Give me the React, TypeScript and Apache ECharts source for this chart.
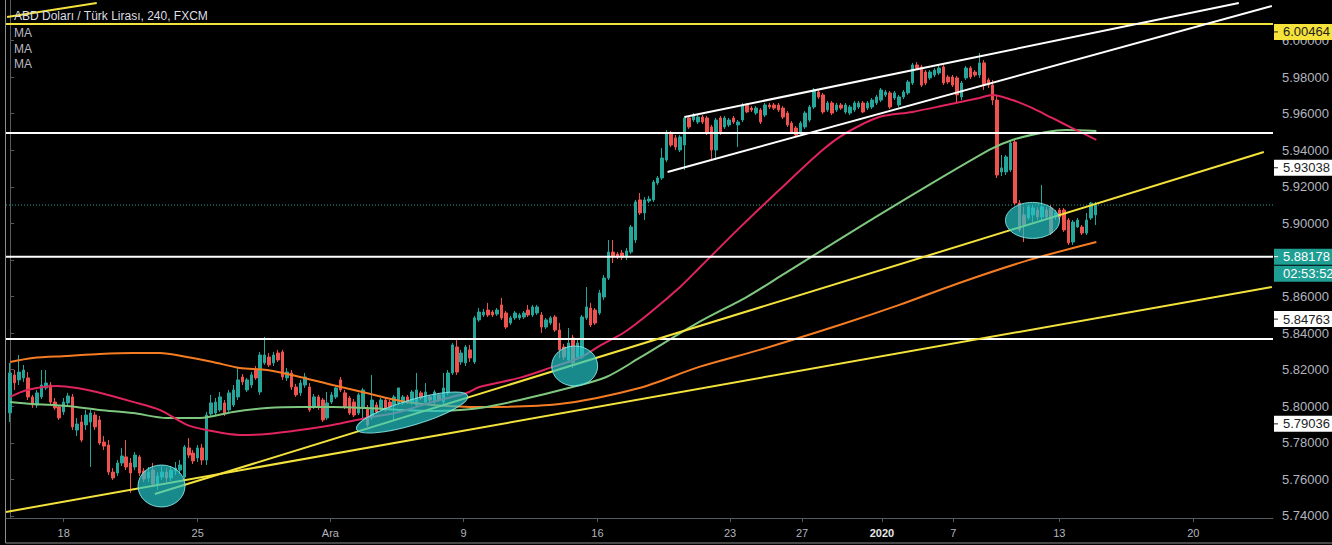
import React, { useEffect, useRef } from 'react';
import * as echarts from 'echarts';

// Bar index positions (4h bars) and date labels on the time axis
const xTickPos = [12, 42, 71.7, 101.5, 131.5, 161.2, 177.3, 195.2, 211.2, 234.9, 264.9];
const xTickLabels = ['18', '25', 'Ara', '9', '16', '23', '27', '2020', '7', '13', '20'];
const yTickValues = [5.74, 5.76, 5.78, 5.8, 5.82, 5.84, 5.86, 5.88, 5.9, 5.92, 5.94, 5.96, 5.98, 6.0];
const xRange = [-0.92, 282.75];
const yRange = [5.7389, 6.0221];

// [open, close, low, high] per 4h bar
const ohlc: number[][] = [
  [5.7964, 5.8182, 5.7914, 5.8237], [5.8171, 5.8128, 5.8089, 5.8198], [5.8144, 5.8187, 5.8116, 5.828], [5.8155, 5.8198, 5.8133, 5.8226],
  [5.8155, 5.8051, 5.8034, 5.8187], [5.8051, 5.8007, 5.7991, 5.8062], [5.8007, 5.8073, 5.7991, 5.8089], [5.8051, 5.8116, 5.804, 5.8198],
  [5.81, 5.8127, 5.8089, 5.8198], [5.8116, 5.8023, 5.8007, 5.8133], [5.8023, 5.7991, 5.798, 5.8045], [5.7996, 5.7936, 5.7925, 5.8007],
  [5.7969, 5.8023, 5.7952, 5.8045], [5.8018, 5.8056, 5.8002, 5.8073], [5.8051, 5.7887, 5.787, 5.8067], [5.787, 5.7903, 5.7837, 5.7936],
  [5.7914, 5.7815, 5.7804, 5.7952], [5.7898, 5.7952, 5.787, 5.798], [5.7914, 5.7963, 5.7668, 5.798], [5.7952, 5.7887, 5.787, 5.7969],
  [5.7925, 5.7799, 5.7788, 5.7947], [5.7804, 5.7782, 5.7761, 5.7837], [5.7788, 5.764, 5.7624, 5.7815], [5.764, 5.7608, 5.7597, 5.7662],
  [5.7635, 5.769, 5.7619, 5.7706], [5.769, 5.7728, 5.7673, 5.7772], [5.7723, 5.7668, 5.7651, 5.7815], [5.769, 5.7635, 5.7526, 5.7717],
  [5.7668, 5.7733, 5.7651, 5.775], [5.7723, 5.7635, 5.7619, 5.7733], [5.7646, 5.7602, 5.7586, 5.7662], [5.7608, 5.764, 5.7586, 5.7668],
  [5.7651, 5.7575, 5.7558, 5.769], [5.7575, 5.7619, 5.7542, 5.764], [5.7613, 5.764, 5.7597, 5.7673], [5.764, 5.7608, 5.7586, 5.7662],
  [5.7608, 5.7651, 5.7591, 5.7673], [5.7646, 5.7662, 5.7624, 5.7695], [5.7651, 5.7679, 5.763, 5.7706], [5.7613, 5.7777, 5.7602, 5.7788],
  [5.7772, 5.7733, 5.7717, 5.7826], [5.7744, 5.7701, 5.7684, 5.7761], [5.7717, 5.7772, 5.7695, 5.7788], [5.7772, 5.7706, 5.7679, 5.7794],
  [5.7706, 5.7952, 5.7679, 5.7969], [5.7958, 5.8018, 5.7947, 5.8062], [5.7963, 5.8023, 5.7947, 5.8045], [5.798, 5.8051, 5.7969, 5.8078],
  [5.8018, 5.7963, 5.7947, 5.8034], [5.798, 5.8073, 5.7969, 5.8089], [5.8007, 5.8089, 5.7996, 5.8116], [5.8051, 5.8144, 5.8034, 5.8209],
  [5.816, 5.8133, 5.8116, 5.8176], [5.8089, 5.8144, 5.8078, 5.8155], [5.8116, 5.8171, 5.81, 5.8187], [5.8198, 5.8155, 5.8144, 5.822],
  [5.8078, 5.828, 5.8062, 5.8297], [5.8237, 5.828, 5.8226, 5.8379], [5.8269, 5.8226, 5.8215, 5.8291], [5.8237, 5.828, 5.822, 5.8297],
  [5.8291, 5.8253, 5.8242, 5.8308], [5.8297, 5.816, 5.8144, 5.8308], [5.8155, 5.8187, 5.8138, 5.8209], [5.8182, 5.8105, 5.8089, 5.8198],
  [5.8105, 5.8062, 5.8051, 5.8122], [5.8073, 5.8127, 5.8056, 5.8144], [5.8116, 5.816, 5.81, 5.8182], [5.8105, 5.798, 5.7969, 5.8127],
  [5.7996, 5.8051, 5.7985, 5.8067], [5.8051, 5.7996, 5.798, 5.8062], [5.8034, 5.7925, 5.7914, 5.8045], [5.7936, 5.8018, 5.7925, 5.8078],
  [5.8023, 5.8062, 5.8012, 5.8078], [5.8051, 5.81, 5.804, 5.8105], [5.8144, 5.8089, 5.8078, 5.816], [5.8073, 5.7996, 5.7985, 5.8089],
  [5.8045, 5.7963, 5.7952, 5.8056], [5.8023, 5.7952, 5.7941, 5.804], [5.7963, 5.8062, 5.7952, 5.8073], [5.7996, 5.8089, 5.7925, 5.81],
  [5.7991, 5.7898, 5.7887, 5.8007], [5.7941, 5.8034, 5.7925, 5.8171], [5.8007, 5.7969, 5.7958, 5.8023], [5.7991, 5.8034, 5.798, 5.8045],
  [5.8034, 5.798, 5.7969, 5.8045], [5.8023, 5.7996, 5.7985, 5.8034], [5.8007, 5.8051, 5.7925, 5.8062], [5.8018, 5.81, 5.8007, 5.81],
  [5.8018, 5.8051, 5.8007, 5.8062], [5.8051, 5.8023, 5.8012, 5.8062], [5.8018, 5.8078, 5.8007, 5.8089], [5.8007, 5.8089, 5.7996, 5.8182],
  [5.8073, 5.8045, 5.8034, 5.8084], [5.8023, 5.8078, 5.8012, 5.8127], [5.8051, 5.8034, 5.8023, 5.8062], [5.8023, 5.8078, 5.8012, 5.8089],
  [5.8062, 5.8034, 5.8023, 5.8073], [5.8023, 5.81, 5.8007, 5.8182], [5.8073, 5.8182, 5.8062, 5.8198], [5.8182, 5.8335, 5.8171, 5.8346],
  [5.8324, 5.8187, 5.8171, 5.8362], [5.8242, 5.8291, 5.8226, 5.8308], [5.8237, 5.8324, 5.822, 5.8335], [5.8308, 5.8264, 5.8242, 5.8335],
  [5.8242, 5.8483, 5.8231, 5.8494], [5.8472, 5.8515, 5.8461, 5.8537], [5.8499, 5.8515, 5.8488, 5.8532], [5.8526, 5.8499, 5.8488, 5.8565],
  [5.8515, 5.8499, 5.8488, 5.8526], [5.8504, 5.8526, 5.8494, 5.8537], [5.8554, 5.8483, 5.8472, 5.8592], [5.851, 5.8433, 5.8422, 5.8521],
  [5.8455, 5.8483, 5.8444, 5.8494], [5.8483, 5.851, 5.8472, 5.8521], [5.8483, 5.8499, 5.8472, 5.851], [5.8488, 5.851, 5.8477, 5.8521],
  [5.8526, 5.8499, 5.8488, 5.8554], [5.8499, 5.8543, 5.8488, 5.8554], [5.851, 5.8543, 5.8499, 5.8554], [5.8499, 5.8433, 5.8401, 5.8515],
  [5.8433, 5.8472, 5.8422, 5.8483], [5.8455, 5.8483, 5.8444, 5.8494], [5.8488, 5.8417, 5.8406, 5.8499], [5.8417, 5.8308, 5.8264, 5.8455],
  [5.8324, 5.8269, 5.8253, 5.8341], [5.8253, 5.8346, 5.8237, 5.8428], [5.8373, 5.8237, 5.8209, 5.839], [5.8269, 5.8346, 5.8253, 5.8362],
  [5.8269, 5.8488, 5.8258, 5.8499], [5.8483, 5.8543, 5.8472, 5.8652], [5.8537, 5.8444, 5.8433, 5.8565], [5.8526, 5.8455, 5.8444, 5.8537],
  [5.851, 5.8619, 5.8499, 5.8636], [5.8597, 5.8701, 5.8581, 5.8718], [5.8701, 5.8843, 5.869, 5.8909], [5.8843, 5.8816, 5.8783, 5.8909],
  [5.8832, 5.8816, 5.8805, 5.8843], [5.8838, 5.8816, 5.88, 5.8854], [5.8816, 5.8849, 5.88, 5.8865], [5.8843, 5.898, 5.8832, 5.8991],
  [5.8909, 5.9117, 5.8892, 5.9128], [5.9128, 5.9057, 5.9046, 5.9166], [5.9057, 5.9128, 5.9018, 5.9144], [5.9122, 5.9133, 5.9111, 5.915],
  [5.9128, 5.9226, 5.9117, 5.9237], [5.9221, 5.9248, 5.921, 5.9259], [5.9248, 5.9357, 5.9237, 5.9412], [5.9346, 5.9494, 5.9335, 5.951],
  [5.9494, 5.9428, 5.9417, 5.9505], [5.9467, 5.9417, 5.9401, 5.9483], [5.9401, 5.9472, 5.939, 5.9483], [5.9428, 5.9576, 5.9292, 5.9587],
  [5.9576, 5.9527, 5.9516, 5.9587], [5.9565, 5.9592, 5.9554, 5.9603], [5.9554, 5.9581, 5.9543, 5.9592], [5.9581, 5.9554, 5.9543, 5.9592],
  [5.9576, 5.9494, 5.9483, 5.9587], [5.9527, 5.9401, 5.9346, 5.9538], [5.9401, 5.9565, 5.9346, 5.9576], [5.9576, 5.9494, 5.9483, 5.9587],
  [5.9527, 5.9576, 5.9516, 5.9587], [5.9538, 5.9565, 5.9527, 5.9576], [5.9576, 5.9554, 5.9543, 5.9587], [5.9538, 5.9554, 5.9417, 5.9565],
  [5.9565, 5.9647, 5.9554, 5.9658], [5.9647, 5.9609, 5.9603, 5.9658], [5.963, 5.962, 5.9609, 5.9641], [5.9603, 5.963, 5.9592, 5.9641],
  [5.962, 5.9554, 5.9543, 5.963], [5.9592, 5.9647, 5.9581, 5.9658], [5.9647, 5.9636, 5.9625, 5.9658], [5.9647, 5.963, 5.962, 5.9658],
  [5.9647, 5.962, 5.9609, 5.9658], [5.963, 5.9581, 5.957, 5.9641], [5.9603, 5.9538, 5.9527, 5.9614], [5.9548, 5.9499, 5.9488, 5.9559],
  [5.9521, 5.9483, 5.9472, 5.9532], [5.9494, 5.9548, 5.9483, 5.9559], [5.9527, 5.9603, 5.9516, 5.9614], [5.9565, 5.9636, 5.9554, 5.9647],
  [5.9636, 5.9729, 5.9625, 5.974], [5.9718, 5.9691, 5.968, 5.9729], [5.9702, 5.9609, 5.9598, 5.9713], [5.962, 5.9658, 5.9609, 5.9669],
  [5.9658, 5.9603, 5.9592, 5.9669], [5.962, 5.9647, 5.9609, 5.9658], [5.9647, 5.963, 5.962, 5.9658], [5.9609, 5.9647, 5.9598, 5.9658],
  [5.9603, 5.9636, 5.9592, 5.9647], [5.962, 5.9658, 5.9609, 5.9669], [5.9636, 5.9658, 5.9625, 5.9669], [5.9658, 5.9609, 5.9603, 5.9669],
  [5.963, 5.9658, 5.962, 5.9669], [5.9636, 5.9674, 5.9625, 5.9685], [5.9658, 5.9691, 5.9647, 5.9702], [5.9674, 5.9729, 5.9663, 5.974],
  [5.9702, 5.9718, 5.9691, 5.9729], [5.9713, 5.9636, 5.9625, 5.9724], [5.9685, 5.9713, 5.9674, 5.9724], [5.9647, 5.9691, 5.9636, 5.9702],
  [5.9691, 5.9718, 5.968, 5.9729], [5.9713, 5.9773, 5.9702, 5.9784], [5.9767, 5.9866, 5.9756, 5.9877], [5.9866, 5.9849, 5.9838, 5.9882],
  [5.9855, 5.9756, 5.9745, 5.9866], [5.9827, 5.9767, 5.9756, 5.9838], [5.9795, 5.9827, 5.9784, 5.9838], [5.9811, 5.9838, 5.98, 5.9849],
  [5.9822, 5.9849, 5.9811, 5.986], [5.9855, 5.9767, 5.9756, 5.9866], [5.98, 5.9773, 5.9762, 5.9811], [5.98, 5.9756, 5.9745, 5.9811],
  [5.9795, 5.9702, 5.9658, 5.9806], [5.9691, 5.9767, 5.9674, 5.9778], [5.9795, 5.9849, 5.9784, 5.986], [5.9849, 5.98, 5.9789, 5.986],
  [5.9827, 5.9811, 5.98, 5.9838], [5.9811, 5.9877, 5.9795, 5.9931], [5.9877, 5.9756, 5.9729, 5.9893], [5.9784, 5.9756, 5.974, 5.9795],
  [5.9756, 5.9674, 5.9647, 5.9784], [5.9674, 5.9264, 5.9248, 5.9702], [5.9281, 5.9303, 5.9259, 5.9374], [5.9281, 5.9363, 5.9264, 5.9374],
  [5.9292, 5.9439, 5.9281, 5.9456], [5.9445, 5.9111, 5.91, 5.9456], [5.9111, 5.8964, 5.8953, 5.9128], [5.9046, 5.8991, 5.8898, 5.909],
  [5.9029, 5.909, 5.9018, 5.91], [5.9046, 5.9084, 5.9007, 5.91], [5.9073, 5.9035, 5.9018, 5.909], [5.9035, 5.909, 5.9018, 5.921],
  [5.9073, 5.9035, 5.9018, 5.909], [5.9084, 5.8947, 5.8936, 5.91], [5.9035, 5.9057, 5.9018, 5.9073], [5.9073, 5.9035, 5.9018, 5.9084],
  [5.9073, 5.8964, 5.8953, 5.9084], [5.9018, 5.8893, 5.8882, 5.9029], [5.8898, 5.9007, 5.8882, 5.9018], [5.898, 5.9018, 5.8975, 5.9029],
  [5.898, 5.8947, 5.8936, 5.8991], [5.8947, 5.9018, 5.8936, 5.9057], [5.9029, 5.9111, 5.9018, 5.9117], [5.9046, 5.91, 5.8991, 5.9117],
];

// Moving averages: [bar index, value]
const maRed = [[0, 5.8051], [3.8, 5.8089], [10.5, 5.8111], [15, 5.81], [19.4, 5.8078], [27.5, 5.8024], [33.5, 5.798], [39.6, 5.7898], [44, 5.787], [51.4, 5.7843], [57.5, 5.7848], [64.9, 5.787], [72.2, 5.7898], [79.8, 5.7936], [87.2, 5.7969], [94.6, 5.8024], [102.2, 5.8072], [105.1, 5.8105], [114, 5.8155], [121.5, 5.8215], [127.5, 5.8265], [132, 5.833], [137.6, 5.8406], [143.2, 5.851], [150, 5.8652], [154.3, 5.8756], [163.3, 5.8975], [172.2, 5.9182], [181.9, 5.9401], [187.2, 5.9494], [194.6, 5.9581], [202, 5.9609], [209.6, 5.9647], [217, 5.9685], [219.9, 5.9702], [224.4, 5.9674], [228.8, 5.9631], [233.3, 5.9576], [237.8, 5.9521], [243.2, 5.9456]];
const maGreen = [[0, 5.8023], [5.1, 5.8012], [12.7, 5.8001], [20.1, 5.798], [27.5, 5.7963], [35.1, 5.7936], [42.5, 5.7936], [49.9, 5.7969], [57.5, 5.799], [64.9, 5.7996], [72.2, 5.7996], [79.8, 5.799], [87.2, 5.798], [94.6, 5.7974], [100.7, 5.798], [105.1, 5.799], [114.1, 5.8034], [125.9, 5.8105], [133.5, 5.816], [140.9, 5.8264], [154.3, 5.8461], [164.9, 5.8597], [172.2, 5.8707], [194.6, 5.9046], [219.2, 5.9401], [224.4, 5.9456], [232, 5.9499], [236.4, 5.951], [243.2, 5.9505]];
const maOrange = [[0, 5.8242], [5.1, 5.8264], [12.7, 5.8275], [20.1, 5.8286], [27.5, 5.8291], [33.5, 5.8291], [39.6, 5.8269], [45.4, 5.8242], [51.4, 5.8209], [57.5, 5.8198], [64.9, 5.816], [72.2, 5.8116], [79.8, 5.8072], [84.3, 5.8045], [88.8, 5.8023], [94.6, 5.8007], [105.1, 5.7996], [123, 5.8012], [140.9, 5.81], [154.3, 5.8215], [167.8, 5.8308], [185.7, 5.8444], [199.1, 5.8554], [212.5, 5.8674], [228.2, 5.88], [243.2, 5.8898]];

// Drawn trend lines: [[x1, v1], [x2, v2]]
const yellowTrends = [
  [[-0.92, 5.7422], [282.5, 5.8652]],
  [[32.4, 5.752], [280.7, 5.939]],
  [[-0.69, 6.0128], [19.4, 6.0205]],
];
const whiteTrends = [
  [[151.0, 5.9581], [275.1, 6.0205]],
  [[147.2, 5.9281], [282.5, 6.0188]],
];
const yellowLevels = [6.009];
const whiteLevels = [5.9494, 5.88178, 5.8368];
const lastPrice = 5.91;

// Highlight ellipses: centre [bar index, value]
const ellipseCenters = [[33.9, 5.7564], [90.0, 5.7966], [126.4, 5.822], [228.9, 5.9016]];
const ellipseSizes = [[23.5, 21, 0], [58, 12.5, 16.6], [23, 20, 0], [27, 18, 0]];

// Price markers on the right scale
const markerValues = [6.00464, 5.93038, 5.88178, 5.84763, 5.79036];
const markerKinds = ['yellow', 'white', 'teal', 'white', 'white'];
const countdown = '02:53:52';

const title = 'ABD Doları / Türk Lirası, 240, FXCM';
const legendTexts = ['MA', 'MA', 'MA'];

const UP = '#26a69a';
const DOWN = '#ef5350';
const FONT = '"Liberation Sans", Arial, sans-serif';

export default function App() {
  const ref = useRef<HTMLDivElement>(null);

  useEffect(() => {
    document.body.style.margin = '0';
    document.body.style.background = '#000';
    const chart = echarts.init(ref.current!, null, { renderer: 'svg' });
    const xMin = xRange[0];
    const xMax = xRange[1];

    const lineSeries = (data: number[][], color: string, width: number, z: number, extra: any = {}) => ({
      type: 'line',
      data,
      showSymbol: false,
      symbol: 'none',
      silent: true,
      z,
      lineStyle: { color, width, ...extra },
    });

    const series: any[] = [
      {
        type: 'candlestick',
        data: ohlc.map((d, i) => [i, d[0], d[1], d[2], d[3]]),
        dimensions: ['idx', 'open', 'close', 'lowest', 'highest'],
        encode: { x: 'idx', y: ['open', 'close', 'lowest', 'highest'] },
        barWidth: 3,
        z: 2,
        itemStyle: { color: UP, color0: DOWN, borderColor: UP, borderColor0: DOWN, borderWidth: 1 },
      },
      lineSeries([[xMin, lastPrice], [xMax, lastPrice]], UP, 1, 1, { type: [1, 2] }),
      { ...lineSeries(maOrange, '#f57c22', 2, 3), smooth: 0.3 },
      { ...lineSeries(maGreen, '#7fc77f', 2, 3), smooth: 0.3 },
      { ...lineSeries(maRed, '#e0245e', 2, 3), smooth: 0.3 },
    ];
    yellowLevels.forEach((v) => series.push(lineSeries([[xMin, v], [xMax, v]], '#f4e23c', 2, 4)));
    whiteLevels.forEach((v) => series.push(lineSeries([[xMin, v], [xMax, v]], '#ffffff', 2, 4)));
    yellowTrends.forEach((t) => series.push(lineSeries(t, '#f4e23c', 2, 4)));
    whiteTrends.forEach((t) => series.push(lineSeries(t, '#ffffff', 2, 4)));
    series.push({
      type: 'custom',
      data: ellipseCenters,
      encode: { x: 0, y: 1 },
      z: 6,
      silent: true,
      renderItem: (params: any, api: any) => {
        const p = api.coord([api.value(0), api.value(1)]);
        const s = ellipseSizes[params.dataIndex];
        return {
          type: 'ellipse',
          x: p[0],
          y: p[1],
          rotation: (s[2] * Math.PI) / 180,
          shape: { cx: 0, cy: 0, rx: s[0], ry: s[1] },
          style: { fill: 'rgba(36,196,200,0.7)', stroke: 'rgba(140,235,235,0.85)', lineWidth: 1 },
        };
      },
    });

    const option: any = {
      animation: false,
      backgroundColor: '#000',
      grid: { left: 6, right: 59, top: 0, bottom: 27 },
      xAxis: {
        type: 'value',
        min: xMin,
        max: xMax,
        axisLine: { show: true, lineStyle: { color: '#555a60', width: 1 } },
        axisTick: { show: true, customValues: xTickPos, length: 4, lineStyle: { color: '#555a60' } },
        splitLine: { show: false },
        axisLabel: {
          customValues: xTickPos,
          color: '#b2b5be',
          fontSize: 11,
          fontFamily: FONT,
          margin: 9,
          formatter: (v: number) => {
            const k = xTickPos.indexOf(v);
            const t = k >= 0 ? xTickLabels[k] : '';
            return t === '2020' ? '{b|2020}' : t;
          },
          rich: { b: { color: '#e6e6e6', fontWeight: 'bold', fontSize: 11, fontFamily: FONT } },
        },
      },
      yAxis: {
        type: 'value',
        position: 'right',
        min: yRange[0],
        max: yRange[1],
        axisLine: { show: true, lineStyle: { color: '#555a60', width: 1 } },
        axisTick: { show: true, customValues: yTickValues, length: 4, lineStyle: { color: '#555a60' } },
        splitLine: { show: false },
        axisLabel: {
          customValues: yTickValues,
          color: '#b2b5be',
          fontSize: 13,
          fontFamily: FONT,
          margin: 9,
          formatter: (v: number) => v.toFixed(5),
        },
      },
      series,
    };
    chart.setOption(option);

    const g: any[] = [];
    g.push({ type: 'rect', z: 40, silent: true, shape: { x: 5.5, y: -2, width: 1340, height: 545 }, style: { fill: 'none', stroke: '#8c8c8c', lineWidth: 1 } });
    g.push({ type: 'text', left: 14, top: 10, z: 50, style: { text: title, fill: '#dcdee3', font: `12px ${FONT}` } });
    legendTexts.forEach((t, k) => {
      g.push({ type: 'text', left: 14, top: 27 + k * 15.5, z: 50, style: { text: t, fill: '#b8bbc2', font: `12px ${FONT}` } });
    });
    const kindStyle: any = {
      yellow: { bg: '#f5e23a', fg: '#222' },
      white: { bg: '#ffffff', fg: '#222' },
      teal: { bg: '#1f9e93', fg: '#ffffff' },
    };
    markerValues.forEach((v, k) => {
      const yp = chart.convertToPixel({ yAxisIndex: 0 }, v) as number;
      const st = kindStyle[markerKinds[k]];
      g.push({ type: 'rect', z: 60, shape: { x: 1274, y: yp - 8, width: 60, height: 16 }, style: { fill: st.bg } });
      g.push({ type: 'line', z: 61, shape: { x1: 1274, y1: yp, x2: 1278, y2: yp }, style: { stroke: st.fg, lineWidth: 1 } });
      g.push({ type: 'text', z: 62, x: 1283, y: yp, style: { text: v.toFixed(5), fill: st.fg, font: `13px ${FONT}`, verticalAlign: 'middle' } });
      if (markerKinds[k] === 'teal') {
        g.push({ type: 'rect', z: 60, shape: { x: 1274, y: yp + 9, width: 60, height: 16 }, style: { fill: st.bg } });
        g.push({ type: 'text', z: 62, x: 1283, y: yp + 17, style: { text: countdown, fill: st.fg, font: `13px ${FONT}`, verticalAlign: 'middle' } });
      }
    });
    chart.setOption({ graphic: g });

    return () => chart.dispose();
  }, []);

  return <div ref={ref} style={{ position: 'fixed', left: 0, top: 0, width: 1332, height: 545 }} />;
}
